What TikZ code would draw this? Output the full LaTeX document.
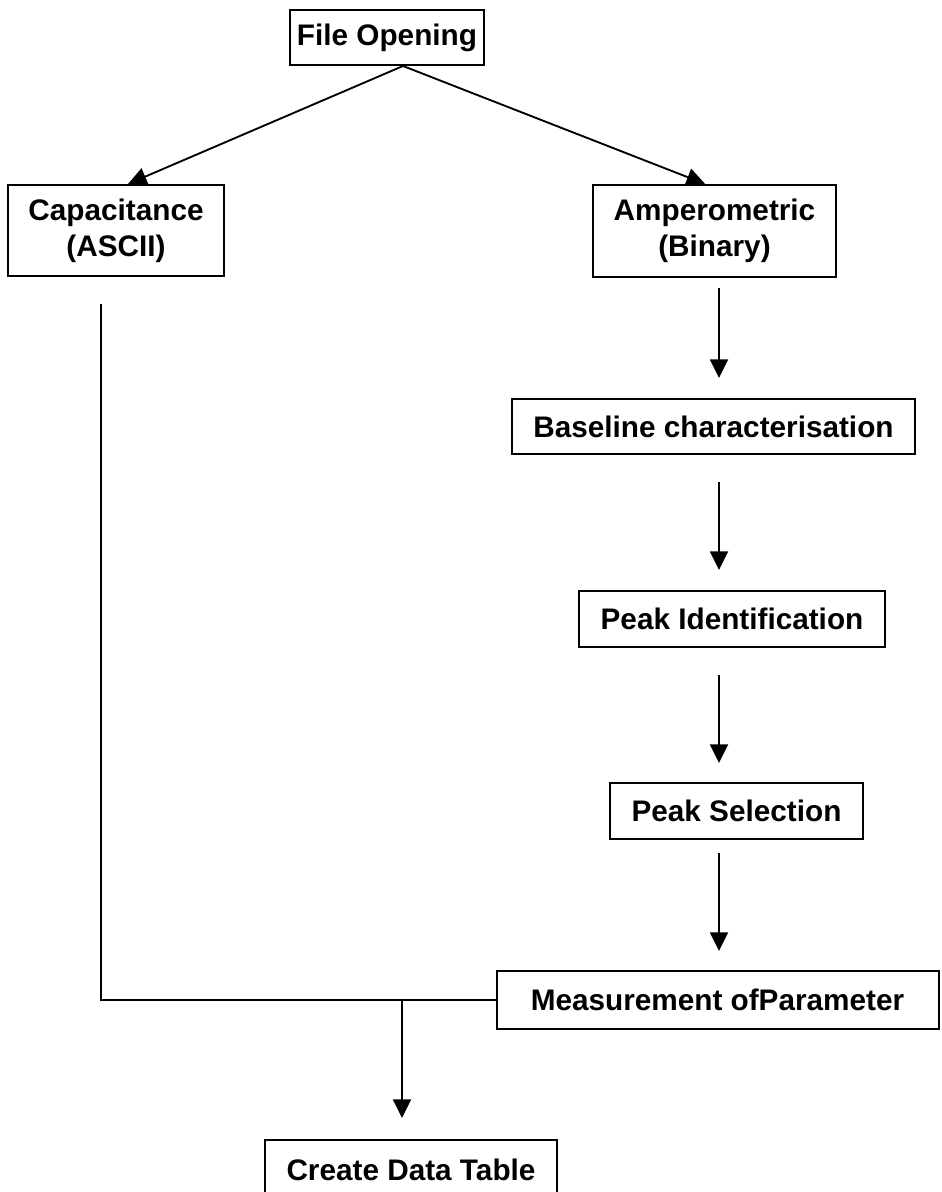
\documentclass[tikz,border=0pt]{standalone}
\usepackage{fontspec}
\setmainfont{Liberation Sans}
\usetikzlibrary{arrows.meta}
\begin{document}
\begin{tikzpicture}[x=0.75pt,y=-0.75pt,
  stepbox/.style={draw, line width=1.5pt, inner sep=0pt, align=center,
    font=\bfseries\fontsize{22.3}{27}\selectfont},
  arr/.style={line width=1.4pt, -{Triangle[length=14pt,width=13.5pt]}},
  link/.style={line width=1.4pt}]
\useasboundingbox (0,0) rectangle (942,1192);

% process boxes
\node[stepbox, minimum width=145.5pt, minimum height=41.25pt] (open)  at (387,37.5)  {File Opening};
\node[stepbox, minimum width=162pt,   minimum height=68.25pt] (cap)   at (116,230.5) {Capacitance\\(ASCII)};
\node[stepbox, minimum width=182.25pt,minimum height=69pt]    (amp)   at (714.5,231) {Amperometric\\(Binary)};
\node[stepbox, minimum width=302.25pt,minimum height=41.25pt] (base)  at (713.5,426.5) {Baseline characterisation};
\node[stepbox, minimum width=229.5pt, minimum height=42pt]    (pid)   at (732,619)   {Peak Identification};
\node[stepbox, minimum width=189.75pt,minimum height=42pt]    (psel)  at (736.5,811) {Peak Selection};
\node[stepbox, minimum width=331.5pt, minimum height=43.5pt]  (meas)  at (717.5,1000) {Measurement ofParameter};
\node[stepbox, minimum width=219pt,   minimum height=45pt]    (table) at (411,1170)  {Create Data Table};

% branch from the file opening step
\draw[arr] ([xshift=12pt]open.south) -- ([xshift=9pt]cap.north);
\draw[arr] ([xshift=12pt]open.south) -- ([xshift=-7pt]amp.north);

% amperometric processing chain
\coordinate (a1s) at (719,288);  \coordinate (a1e) at (719,378);
\coordinate (a2s) at (719,482);  \coordinate (a2e) at (719,570);
\coordinate (a3s) at (719,675);  \coordinate (a3e) at (719,763);
\coordinate (a4s) at (719,853);  \coordinate (a4e) at (719,951);
\draw[arr] (a1s) -- (a1e);
\draw[arr] (a2s) -- (a2e);
\draw[arr] (a3s) -- (a3e);
\draw[arr] (a4s) -- (a4e);

% capacitance path joins the measurement line
\coordinate (cs) at (101,304);
\coordinate (join) at (402,1000);
\draw[link] (cs) |- (meas.west);
\coordinate (te) at (402,1118);
\draw[arr] (join) -- (te);
\end{tikzpicture}
\end{document}
